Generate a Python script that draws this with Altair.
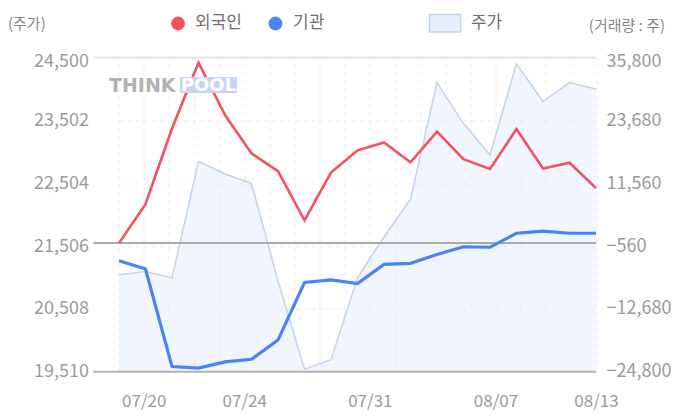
import altair as alt
import pandas as pd

# ---- data ----
axis_dates = ["07/17", "07/20", "07/21", "07/22", "07/23", "07/24", "07/27", "07/28",
              "07/29", "07/30", "07/31", "08/03", "08/04", "08/05", "08/06", "08/07",
              "08/10", "08/11", "08/12", "08/13"]
label_dates = ["07/20", "07/24", "07/31", "08/07", "08/13"]

price = [21050, 21100, 21000, 22850, 22650, 22500, 20950, 19550, 19700, 21000,
         21650, 22250, 24100, 23450, 22950, 24400, 23800, 24100, 24000]
foreign = [0, 7500, 22100, 34800, 24700, 17300, 13900, 4400, 13600, 17900,
           19400, 15600, 21500, 16200, 14300, 22000, 14400, 15500, 10600]
inst = [-3400, -5000, -23800, -24100, -22900, -22400, -18700, -7600, -7100, -7800,
        -4100, -3900, -2200, -700, -800, 1900, 2300, 1900, 1900]

price_ticks = [19510, 20508, 21506, 22504, 23502, 24500]
vol_ticks = [-24800, -12680, -560, 11560, 23680, 35800]

series_names = ["외국인", "기관", "주가"]
RED = "#f4505e"
BLUE = "#4a83f7"
AREA_LINE = "#c6d3ef"
AREA_FILL = "#e3ebfc"

FONT = "Noto Sans CJK KR"
W, H = 502.5, 314.2

df = pd.DataFrame({"i": list(range(len(price))), "price": price,
                   "foreign": foreign, "inst": inst})
axis_df = pd.DataFrame({"k": list(range(len(axis_dates)))})
one = pd.DataFrame({"a": [0]})

lbls = [d if d in label_dates else "" for d in axis_dates]
label_expr = "[" + ",".join("'" + s + "'" for s in lbls) + "][datum.value]"
num_expr = "format(datum.value, ',')"

# ---- category axis (grid + date labels) ----
axis_layer = alt.Chart(axis_df).mark_point(opacity=0).encode(
    x=alt.X("k:Q",
            scale=alt.Scale(domain=[-1, len(axis_dates) - 1], nice=False, zero=False),
            axis=alt.Axis(values=list(range(len(axis_dates))), labelExpr=label_expr,
                          grid=True, gridDash=[4, 4], gridColor="#ebebeb", gridWidth=1,
                          domain=False, ticks=False, labelFontSize=17, labelColor="#9a9a9a",
                          labelFont=FONT, labelPadding=22, labelOverlap=False,
                          labelFlush=False, title=None))
)

xdata = alt.X("i:Q", scale=alt.Scale(domain=[0, len(price) - 1], range=[25.5, 502.5],
                                     nice=False, zero=False), axis=None)

price_scale = alt.Scale(domain=[price_ticks[0], price_ticks[-1]], nice=False, zero=False)
vol_scale = alt.Scale(domain=[vol_ticks[0], vol_ticks[-1]], nice=False, zero=False)

left_axis = alt.Axis(orient="left", values=price_ticks, labelExpr=num_expr, grid=True,
                     gridDash=[4, 4], gridColor="#ebebeb", domain=False, ticks=False,
                     labelFontSize=18, labelColor="#9a9a9a", labelFont=FONT,
                     labelPadding=5, labelFlush=False, labelOverlap=False, title=None,
                     labelOffset={"condition": {"test": f"datum.value == {price_ticks[-1]}",
                                                "value": 4}, "value": 0})
right_axis = alt.Axis(orient="right", values=vol_ticks, labelExpr=num_expr, grid=False,
                      domain=False, ticks=False, labelFontSize=18, labelColor="#9a9a9a",
                      labelFont=FONT, labelPadding=10, labelFlush=False,
                      labelOverlap=False, title=None,
                      labelOffset={"condition": {"test": f"datum.value == {vol_ticks[-1]}",
                                                 "value": 4}, "value": 0})

area = alt.Chart(df).mark_area(
    fill=AREA_FILL, fillOpacity=0.5, interpolate="linear",
    line={"color": AREA_LINE, "strokeWidth": 1.6}
).encode(x=xdata, y=alt.Y("price:Q", scale=price_scale, axis=left_axis),
         y2=alt.datum(price_ticks[0]))

top_rule = alt.Chart(pd.DataFrame({"v": [price_ticks[-1]]})).mark_rule(
    color="#e3e3e3", strokeWidth=2).encode(y=alt.Y("v:Q", scale=price_scale, axis=left_axis))
bot_rule = alt.Chart(pd.DataFrame({"v": [price_ticks[0]]})).mark_rule(
    color="#b3b3b3", strokeWidth=2).encode(y=alt.Y("v:Q", scale=price_scale, axis=left_axis))

price_layer = alt.layer(area, top_rule, bot_rule)

zero_rule = alt.Chart(pd.DataFrame({"v": [0]})).mark_rule(
    color="#aaaaaa", strokeWidth=2).encode(y=alt.Y("v:Q", scale=vol_scale, axis=right_axis))
red_line = alt.Chart(df).mark_line(color=RED, strokeWidth=2.6).encode(
    x=xdata, y=alt.Y("foreign:Q", scale=vol_scale, axis=right_axis))
blue_line = alt.Chart(df).mark_line(color=BLUE, strokeWidth=3.2).encode(
    x=xdata, y=alt.Y("inst:Q", scale=vol_scale, axis=right_axis))

flow_layer = alt.layer(zero_rule, red_line, blue_line)

# ---- titles / legend / watermark ----
def txt(s, x, y, size=15, color="#888888", align="left", font=FONT, weight="normal"):
    return alt.Chart(one).mark_text(text=s, align=align, baseline="middle", fontSize=size,
                                    color=color, font=font, fontWeight=weight).encode(
        x=alt.value(x), y=alt.value(y))

title_l = txt("(주가)", -85.5, -33, 15)
title_r = txt("(거래량 : 주)", 571.5, -31.5, 15, align="right")

dot_r = alt.Chart(one).mark_point(filled=True, shape="circle", size=190, color=RED, opacity=1).encode(
    x=alt.value(84.5), y=alt.value(-34))
dot_b = alt.Chart(one).mark_point(filled=True, shape="circle", size=190, color=BLUE, opacity=1).encode(
    x=alt.value(182), y=alt.value(-34))
box = alt.Chart(one).mark_rect(fill="#e6edfb", stroke="#c3d1f0", strokeWidth=1.5).encode(
    x=alt.value(336), x2=alt.value(367), y=alt.value(-43), y2=alt.value(-25.5))
leg1 = txt(series_names[0], 101.5, -34, 17, "#707070")
leg2 = txt(series_names[1], 199.5, -34, 17, "#707070")
leg3 = txt(series_names[2], 377.5, -34, 17, "#707070")

wm_box = alt.Chart(one).mark_rect(fill="#c7d4f3").encode(
    x=alt.value(86.5), x2=alt.value(143.5), y=alt.value(19.5), y2=alt.value(35.5))
wm_think = alt.Chart(one).mark_text(text="THINK", align="left", baseline="alphabetic",
                                    fontSize=19, font="DejaVu Sans", fontWeight="bold",
                                    color="#b2b2b2").encode(x=alt.value(15.5), y=alt.value(34.5))
wm_pool = alt.Chart(one).mark_text(text="POOL", align="center", baseline="alphabetic",
                                   fontSize=18, font="DejaVu Sans", fontWeight="bold",
                                   color="#ffffff").encode(x=alt.value(115), y=alt.value(34))

chart = alt.layer(
    axis_layer, price_layer, flow_layer,
    title_l, title_r, dot_r, dot_b, box, leg1, leg2, leg3, wm_box, wm_think, wm_pool
).resolve_scale(x="independent", y="independent").properties(
    width=W, height=H, autosize="none",
    padding={"left": 85.5, "top": 49.5, "right": 80, "bottom": 40}
).configure_view(stroke=None)

chart.save("out.html", embed_options={"renderer": "svg", "actions": False})
